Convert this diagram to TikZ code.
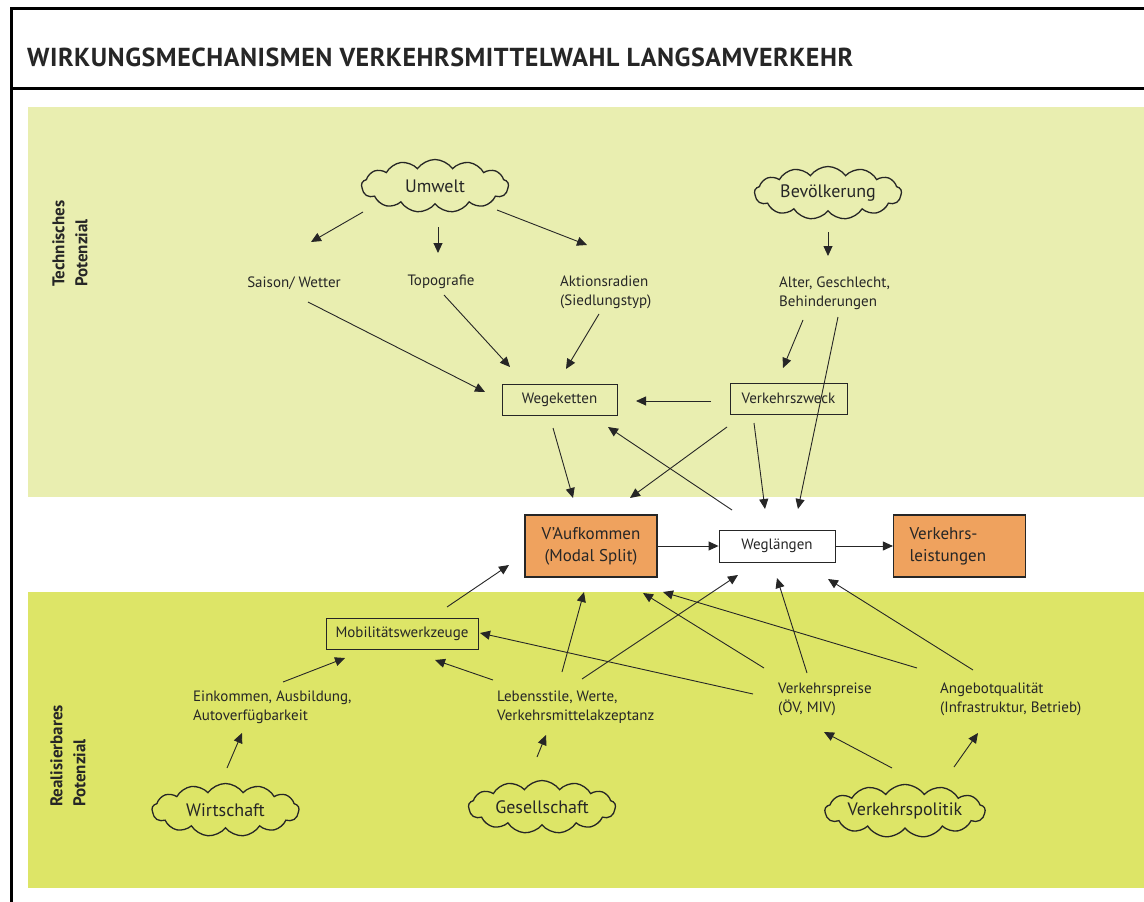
\documentclass[tikz,border=0pt]{standalone}
\usepackage{fontspec}
\setmainfont{PT Sans}
\usetikzlibrary{shapes.symbols,arrows.meta,calc}
\definecolor{topg}{HTML}{E9EEB0}
\definecolor{botg}{HTML}{DDE567}
\definecolor{orng}{HTML}{EFA25E}
\definecolor{ink}{HTML}{262626}
\begin{document}
\begin{tikzpicture}[x=1pt,y=-1pt,
  every node/.style={text=ink, inner sep=0pt},
  lbl/.style={font=\fontsize{15}{19}\selectfont, align=left},
  box/.style={draw=ink, line width=0.9pt, minimum height=31pt, font=\fontsize{15}{19}\selectfont},
  obox/.style={draw=ink, fill=orng, line width=1.2pt, minimum width=132pt, minimum height=62pt, font=\fontsize{17}{22}\selectfont},
  cloudnode/.style={cloud, cloud puffs=13, cloud puff arc=110, cloud ignores aspect, draw=ink, line width=1.3pt, minimum width=147pt, minimum height=53pt, font=\fontsize{18}{22}\selectfont},
  arr/.style={draw=ink, line width=0.9pt, -{Triangle[length=10pt,width=9pt]}},
  side/.style={font=\bfseries\fontsize{17}{23}\selectfont, rotate=90, align=left, anchor=west}
]
\useasboundingbox (0,0) rectangle (1144,902);
\fill[white] (0,0) rectangle (1144,902);
\fill[topg] (28,107) rectangle (1144,497);
\fill[botg] (28,592) rectangle (1144,888);
\draw[line width=3pt] (11.5,902) -- (11.5,8.5) -- (1144,8.5);
\draw[line width=3pt] (10,88.5) -- (1144,88.5);

\node[anchor=base west, font=\bfseries\fontsize{26}{30}\selectfont\addfontfeature{LetterSpace=2}] (title) at (27,66) {WIRKUNGSMECHANISMEN VERKEHRSMITTELWAHL LANGSAMVERKEHR};

\node[side] (tp) at (70,287) {Technisches\\Potenzial};
\node[side] (rp) at (68,807) {Realisierbares\\Potenzial};

\node[cloudnode] (umwelt) at (435,186) {Umwelt};
\node[cloudnode] (bev) at (828,193) {Bevölkerung};
\node[cloudnode] (wirt) at (225.5,810) {Wirtschaft};
\node[cloudnode] (gesell) at (542,807) {Gesellschaft};
\node[cloudnode] (vpol) at (905,811) {Verkehrspolitik};

\node[lbl] (saison) at (294,283) {Saison/ Wetter};
\node[lbl] (topo) at (441,282) {Topografie};
\node[lbl, anchor=west] (aktion) at (560,292) {Aktionsradien\\(Siedlungstyp)};
\node[lbl, anchor=west] (alter) at (779,293) {Alter, Geschlecht,\\Behinderungen};
\node[lbl, anchor=west] (eink) at (193,707) {Einkommen, Ausbildung,\\Autoverfügbarkeit};
\node[lbl, anchor=west] (leben) at (497,707) {Lebensstile, Werte,\\Verkehrsmittelakzeptanz};
\node[lbl, anchor=west] (vpreise) at (778,699) {Verkehrspreise\\(ÖV, MIV)};
\node[lbl, anchor=west] (angebot) at (940,699) {Angebotqualität\\(Infrastruktur, Betrieb)};

\node[box, minimum width=115pt] (wegk) at (559.5,399.5) {Wegeketten};
\node[box, minimum width=117pt] (vzw) at (788.5,398.5) {Verkehrszweck};
\node[obox, align=center] (vauf) at (591,546) {V’Aufkommen\\(Modal Split)};
\node[box, minimum width=116pt, minimum height=32pt, fill=white] (wegl) at (777,546) {Weglängen};
\node[obox, align=left, text width=100pt] (vleist) at (959.5,546) {Verkehrs-\\leistungen};
\node[box, minimum width=152pt] (mobil) at (402,633.5) {Mobilitätswerkzeuge};

\draw[arr] ($(umwelt)+(-72,26)$) -- ($(saison)+(17,-41)$);
\draw[arr] ($(umwelt)+(3,41)$) -- ($(topo)+(-3,-29)$);
\draw[arr] ($(umwelt)+(62,24)$) -- ($(aktion.west)+(27,-47)$);
\draw[arr] ($(bev)+(0,39)$) -- ($(alter.west)+(49,-37)$);
\draw[arr] ($(saison)+(14,19)$) -- ($(wegk)+(-74.5,-7.5)$);
\draw[arr] ($(topo)+(3,13)$) -- ($(wegk)+(-49.5,-32.5)$);
\draw[arr] ($(aktion.west)+(39,22)$) -- ($(wegk)+(6.5,-30.5)$);
\draw[arr] ($(alter.west)+(24,27)$) -- ($(vzw)+(-5.5,-30.5)$);
\draw[arr] ($(alter.west)+(59,24)$) -- ($(wegl)+(21,-37)$);
\draw[arr] ($(vzw)+(-77.5,2.5)$) -- ($(wegk)+(76.5,1.5)$);
\draw[arr] ($(wegk)+(-6.5,28.5)$) -- ($(vauf)+(-18,-48)$);
\draw[arr] ($(vzw)+(-61.5,28.5)$) -- ($(vauf)+(39,-48)$);
\draw[arr] ($(vzw)+(-34.5,24.5)$) -- ($(wegl)+(-12,-37)$);
\draw[arr] ($(wegl)+(-45,-36)$) -- ($(wegk)+(48.5,27.5)$);
\draw[arr] (vauf.east) -- (wegl.west);
\draw[arr] (wegl.east) -- (vleist.west);
\draw[arr] ($(mobil)+(45,-26.5)$) -- ($(vauf)+(-82,19)$);
\draw[arr] ($(eink.west)+(90,-25)$) -- ($(mobil)+(-57,24.5)$);
\draw[arr] ($(leben.west)+(-4,-27)$) -- ($(mobil)+(33,26.5)$);
\draw[arr] ($(leben.west)+(65,-35)$) -- ($(vauf)+(-7,46)$);
\draw[arr] ($(leben.west)+(85,-28)$) -- ($(wegl)+(-39,29)$);
\draw[arr] ($(vpreise.west)+(-25,-5)$) -- ($(mobil)+(78,-0.5)$);
\draw[arr] ($(vpreise.west)+(-14,-31)$) -- ($(vauf)+(52,47)$);
\draw[arr] ($(vpreise.west)+(29,-26)$) -- ($(wegl)+(0,32)$);
\draw[arr] ($(angebot.west)+(-23,-31)$) -- ($(vauf)+(72,46)$);
\draw[arr] ($(angebot.west)+(33,-29)$) -- ($(wegl)+(51,33)$);
\draw[arr] ($(gesell)+(-5,-50)$) -- ($(leben.west)+(49,28)$);
\draw[arr] ($(wirt)+(1.5,-42)$) -- ($(eink.west)+(49,26)$);
\draw[arr] ($(vpol)+(-13,-43)$) -- ($(vpreise.west)+(46,33)$);
\draw[arr] ($(vpol)+(49,-44)$) -- ($(angebot.west)+(38,34)$);
\end{tikzpicture}
\end{document}
